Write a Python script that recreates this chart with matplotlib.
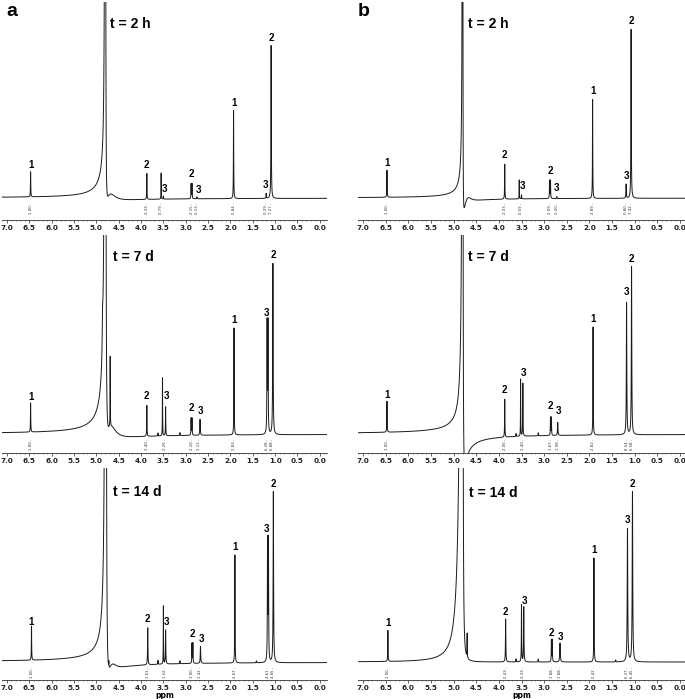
import numpy as np
import matplotlib
matplotlib.use('Agg')
import matplotlib.pyplot as plt
from matplotlib.ticker import MultipleLocator, FormatStrFormatter

plt.rcParams['path.simplify'] = False

W, H = 685, 699

# ---- peak tables: position (ppm), height (px above baseline),
#      width (ppm, or (left, right) for skewed lines), phase (deg)
# panel a, t = 2 h
a2h_ppm = [6.47, 4.80, 4.72, 3.87, 3.55, 3.50, 2.88, 2.86, 2.75, 1.93, 1.20, 1.09]
a2h_h = [25, 7368, 16, 26, 26, 3, 15, 15, 2, 88, 5, 153]
a2h_w = [.004, .0028, .15, .004, .003, .004, .004, .004, .005, .004, .004, .005]
a2h_ph = [0, 5, 0, 0, 0, 0, 0, 0, 0, 0, 0, 0]
a2h_lab = ['1', '2', '3', '2', '3', '1', '3', '2']
a2h_lab_ppm = [6.47, 3.87, 3.47, 2.87, 2.72, 1.93, 1.21, 1.09]
a2h_lab_y = [33, 33, 9, 24, 8, 95, 13, 160]
a2h_int_ppm = [6.47, 3.87, 3.55, 2.87, 2.75, 1.93, 1.20, 1.09]
a2h_int = ['1.00', '2.33', '0.79', '2.15', '0.13', '2.84', '0.29', '7.27']

# panel b, t = 2 h
b2h_ppm = [6.47, 4.80, 4.70, 3.87, 3.55, 3.50, 2.88, 2.86, 2.72, 1.93, 1.19, 1.08]
b2h_h = [27, 5839, 9, 35, 19, 4, 18, 18, 2, 99, 14, 169]
b2h_w = [.004, .00197, .1, .004, .003, .004, .004, .004, .005, .004, .005, .005]
b2h_ph = [0, 6, 0, 0, 0, 0, 0, 0, 0, 0, 0, 0]
b2h_lab = ['1', '2', '3', '2', '3', '1', '3', '2']
b2h_lab_ppm = [6.47, 3.87, 3.48, 2.87, 2.72, 1.93, 1.19, 1.08]
b2h_lab_y = [35, 43, 12, 27, 10, 107, 22, 177]
b2h_int_ppm = [6.47, 3.87, 3.50, 2.87, 2.72, 1.93, 1.19, 1.08]
b2h_int = ['1.00', '2.33', '0.59', '2.09', '0.20', '2.89', '0.80', '7.42']

# panel a, t = 7 d
a7d_ppm = [6.47, 4.80, 4.86, 4.70, 4.69, 3.87, 3.62, 3.52, 3.45, 3.13, 2.88, 2.86,
           2.68, 1.92, 1.18, 1.16, 1.05]
a7d_h = [29, 8947, 30, 24, 70, 31, 3, 58, 29, 3, 17, 17, 16, 107, 110, 110, 171]
a7d_w = [.004, .00385, .01, .15, .003, .004, .004, .003, .004, .004, .004, .004,
         .006, .004, .005, .005, .006]
a7d_ph = [0, 5, 0, 0, 0, 0, 0, 0, 0, 0, 0, 0, 0, 0, 0, 0, 0]
a7d_lab = ['1', '2', '3', '2', '3', '1', '3', '2']
a7d_lab_ppm = [6.47, 3.87, 3.42, 2.87, 2.67, 1.92, 1.19, 1.05]
a7d_lab_y = [37, 38, 38, 26, 23, 114, 121, 179]
a7d_int_ppm = [6.47, 3.87, 3.47, 2.87, 2.70, 1.92, 1.18, 1.07]
a7d_int = ['1.00', '2.40', '2.26', '2.10', '2.11', '2.83', '6.28', '6.88']

# panel b, t = 7 d
b7d_ppm = [6.47, 4.80, 3.87, 3.62, 3.52, 3.47, 3.13, 2.86, 2.84, 2.70, 1.92,
           1.18, 1.07]
b7d_h = [31, 1760, 38, 3, 57, 53, 3, 18, 18, 13, 108, 132, 168]
b7d_w = [.004, .0066, .004, .004, .003, .004, .004, .004, .004, .006, .004,
         .006, .006]
b7d_ph = [0, 15, 0, 0, 0, 0, 0, 0, 0, 0, 0, 0, 0]
b7d_lab = ['1', '2', '3', '2', '3', '1', '3', '2']
b7d_lab_ppm = [6.47, 3.87, 3.45, 2.86, 2.69, 1.92, 1.19, 1.07]
b7d_lab_y = [39, 44, 61, 28, 23, 115, 142, 175]
b7d_int_ppm = [6.47, 3.87, 3.47, 2.85, 2.70, 1.92, 1.18, 1.07]
b7d_int = ['1.00', '2.06', '2.40', '1.67', '1.98', '2.82', '8.54', '6.58']

# panel a, t = 14 d
a14d_ppm = [6.45, 4.79, 4.66, 4.72, 3.85, 3.62, 3.50, 3.45, 3.13, 2.86, 2.84,
            2.67, 1.90, 1.42, 1.17, 1.15, 1.04]
a14d_h = [34, 8421, 12, 6, 37, 4, 58, 34, 3, 20, 20, 17, 108, 2, 120, 120, 171]
a14d_w = [.004, .0041, .12, .003, .005, .004, .003, .005, .004, .004, .004,
          .006, .004, .004, .005, .005, .006]
a14d_ph = [0, 5, 0, 0, 0, 0, 0, 0, 0, 0, 0, 0, 0, 0, 0, 0, 0]
a14d_lab = ['1', '2', '3', '2', '3', '1', '3', '2']
a14d_lab_ppm = [6.45, 3.85, 3.42, 2.86, 2.65, 1.90, 1.19, 1.04]
a14d_lab_y = [40, 43, 40, 28, 23, 115, 133, 178]
a14d_int_ppm = [6.45, 3.85, 3.47, 2.85, 2.67, 1.90, 1.16, 1.05]
a14d_int = ['1.00', '1.61', '1.52', '1.90', '1.42', '2.67', '4.61', '4.65']

# panel b, t = 14 d
b14d_ppm = [6.45, 4.80, 4.70, 3.85, 3.62, 3.50, 3.45, 3.13, 2.84, 2.82,
            2.65, 1.90, 1.42, 1.16, 1.05]
b14d_h = [31, 1400, 24, 43, 3, 57, 55, 3, 22, 22, 19, 104, 2, 133, 170]
b14d_w = [.004, (.035, .006), .003, .005, .004, .004, .005, .004, .004, .004,
          .007, .004, .004, .007, .007]
b14d_ph = [0] * 15
b14d_lab = ['1', '2', '3', '2', '3', '1', '3', '2']
b14d_lab_ppm = [6.45, 3.85, 3.43, 2.84, 2.64, 1.90, 1.16, 1.05]
b14d_lab_y = [39, 50, 61, 29, 25, 112, 142, 178]
b14d_int_ppm = [6.45, 3.85, 3.47, 2.83, 2.65, 1.90, 1.16, 1.05]
b14d_int = ['1.00', '2.43', '2.33', '1.88', '1.88', '2.42', '6.37', '6.45']

time_labels = ['t = 2 h', 't = 7 d', 't = 14 d']


def spectrum(x, ppm, h, w, ph):
    '''sum of (phased, optionally skewed) Lorentzian lines'''
    y = np.zeros_like(x)
    for p0, a, g, phi in zip(ppm, h, w, ph):
        d = x - p0
        if isinstance(g, tuple):
            g = np.where(d > 0, g[0], g[1])
        den = d ** 2 + g ** 2
        phi = np.deg2rad(phi)
        y += a * (np.cos(phi) * g ** 2 + np.sin(phi) * g * d) / den
    return y


panels = [
    # row, col, peaks, labels, integrals
    (0, 0, (a2h_ppm, a2h_h, a2h_w, a2h_ph), (a2h_lab, a2h_lab_ppm, a2h_lab_y), (a2h_int_ppm, a2h_int)),
    (0, 1, (b2h_ppm, b2h_h, b2h_w, b2h_ph), (b2h_lab, b2h_lab_ppm, b2h_lab_y), (b2h_int_ppm, b2h_int)),
    (1, 0, (a7d_ppm, a7d_h, a7d_w, a7d_ph), (a7d_lab, a7d_lab_ppm, a7d_lab_y), (a7d_int_ppm, a7d_int)),
    (1, 1, (b7d_ppm, b7d_h, b7d_w, b7d_ph), (b7d_lab, b7d_lab_ppm, b7d_lab_y), (b7d_int_ppm, b7d_int)),
    (2, 0, (a14d_ppm, a14d_h, a14d_w, a14d_ph), (a14d_lab, a14d_lab_ppm, a14d_lab_y), (a14d_int_ppm, a14d_int)),
    (2, 1, (b14d_ppm, b14d_h, b14d_w, b14d_ph), (b14d_lab, b14d_lab_ppm, b14d_lab_y), (b14d_int_ppm, b14d_int)),
]

# layout in pixels
col_left = [2, 358]
col_width = [325, 327]
col_xlim = [(7.11, -0.16), (7.11, -0.11)]
row_top = [2, 235, 468]
row_bottom = [220, 453, 680]
row_base = [198, 434, 662]
time_pos = [[(110, 24), (468, 24)], [(113, 257), (468, 257)], [(113, 492), (469, 493)]]

fig = plt.figure(figsize=(W / 100, H / 100), dpi=100)
x = np.linspace(7.3, -0.3, 30001)

for row, col, peaks, labels, integ in panels:
    left, width = col_left[col], col_width[col]
    top, bottom, base = row_top[row], row_bottom[row], row_base[row]
    ax = fig.add_axes([left / W, 1 - bottom / H, width / W, (bottom - top) / H])
    ax.patch.set_alpha(0)
    y = spectrum(x, *peaks)
    # keep the off-scale water line within a sane range before drawing
    y = np.clip(y, -(bottom - base) - 20, base - top + 20)
    ax.plot(x, y, color='#1a1a1a', lw=0.7)
    ax.set_xlim(*col_xlim[col])
    ax.set_ylim(-(bottom - base), base - top)

    for txt, px, py in zip(*labels):
        ax.text(px, py, txt, ha='center', va='center', fontsize=7,
                fontweight='bold', family='Liberation Sans')
    for px, txt in zip(*integ):
        ax.text(px, -10, txt + ' -', rotation=90, ha='center', va='center',
                fontsize=2.8, color='#333333')

    for s in ['top', 'left', 'right']:
        ax.spines[s].set_visible(False)
    ax.spines['bottom'].set_linewidth(0.6)
    ax.spines['bottom'].set_color('#333333')
    ax.set_yticks([])
    ax.xaxis.set_major_locator(MultipleLocator(0.5))
    ax.xaxis.set_minor_locator(MultipleLocator(0.1))
    ax.xaxis.set_major_formatter(FormatStrFormatter('%.1f'))
    ax.tick_params(axis='x', which='major', length=2, width=0.5, pad=1.5,
                   labelsize=5.2, colors='#222222')
    ax.tick_params(axis='x', which='minor', length=1, width=0.4, colors='#444444')
    for lab in ax.get_xticklabels():
        lab.set_fontweight('bold')
    if row == 2:
        ax.set_xlabel('ppm', fontsize=5.5, fontweight='bold', labelpad=0)

    tx, ty = time_pos[row][col]
    fig.text(tx / W, 1 - ty / H, time_labels[row], ha='left', va='center',
             fontsize=10, fontweight='bold', family='Liberation Sans')

fig.text(6 / W, 1 - 12 / H, 'a', ha='left', va='center', fontsize=14,
         fontweight='bold', family='Liberation Sans')
fig.text(358 / W, 1 - 12 / H, 'b', ha='left', va='center', fontsize=14,
         fontweight='bold', family='Liberation Sans')

fig.savefig('out.png', dpi=100)
